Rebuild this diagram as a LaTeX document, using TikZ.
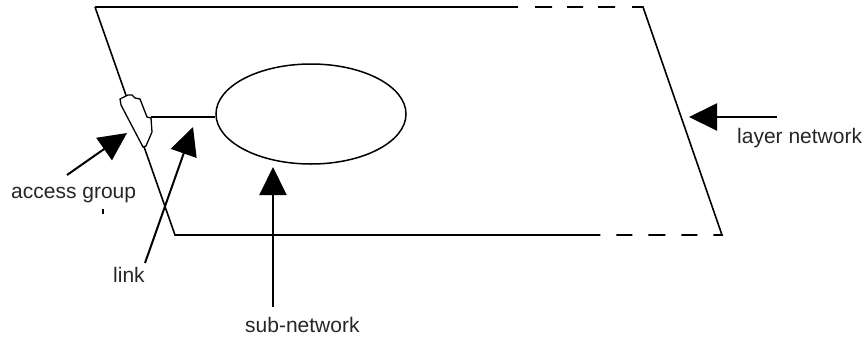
\documentclass[tikz,border=0pt]{standalone}
\usepackage{fontspec}
\setmainfont{Liberation Sans}
\usetikzlibrary{arrows.meta,shapes.geometric}
\begin{document}
\begin{tikzpicture}[x=1pt,y=-1pt,
  lbl/.style={inner sep=0pt, font=\fontsize{21}{25}\selectfont, anchor=base west, text=black!85},
  pointer/.style={line width=2pt, -{Triangle[length=28pt,width=27pt]}},
  planeedge/.style={line width=1.6pt, line join=miter}]
\useasboundingbox (0,0) rectangle (867,338);
% layer network plane
\coordinate (tl) at (95,7);
\coordinate (tr) at (643,7);
\coordinate (br) at (722,235);
\coordinate (bl) at (175,235);
\draw[planeedge, dash pattern=on 423pt off 17pt on 17pt off 15pt on 16pt off 15pt on 17pt off 17pt on 261pt off 16pt on 16pt off 16pt on 17pt off 16pt on 16pt off 16pt on 2000pt]
  (tl) -- (tr) -- (br) -- (bl) -- cycle;
% access group
\draw[line width=1.3pt, fill=white] (120,99) -- (128,95) -- (132,95) -- (135,98) -- (140,99) -- (147,117) -- (151,118) -- (152,132) -- (146,146) -- (143,147) -- (121,105) -- cycle;
\coordinate (ag) at (151,117);
% sub-network
\node[draw, ellipse, minimum width=190pt, minimum height=100pt, inner sep=0pt, line width=1.5pt] (ell) at (311,114) {};
% link
\draw[line width=2.6pt] (ag) -- (ag -| ell.west);
% pointers
\coordinate (lnS) at (777,117);
\coordinate (lnT) at (689,117);
\draw[pointer] (lnS) -- (lnT);
\coordinate (agS) at (67,175);
\coordinate (agT) at (127,133);
\draw[pointer] (agS) -- (agT);
\coordinate (lkS) at (145,263);
\coordinate (lkT) at (193,127);
\draw[pointer] (lkS) -- (lkT);
\coordinate (snS) at (273,307);
\coordinate (snT) at (273,167);
\draw[pointer] (snS) -- (snT);
% labels
\node[lbl] (tlayer) at (737,143) {layer network};
\node[lbl] (taccess) at (11,198) {access group};
\node[lbl] (tlink) at (113,282) {link};
\node[lbl] (tsub) at (245,332) {sub-network};
% small tick
\draw[line width=1.5pt] (103,209) -- (103,214);
\end{tikzpicture}
\end{document}
